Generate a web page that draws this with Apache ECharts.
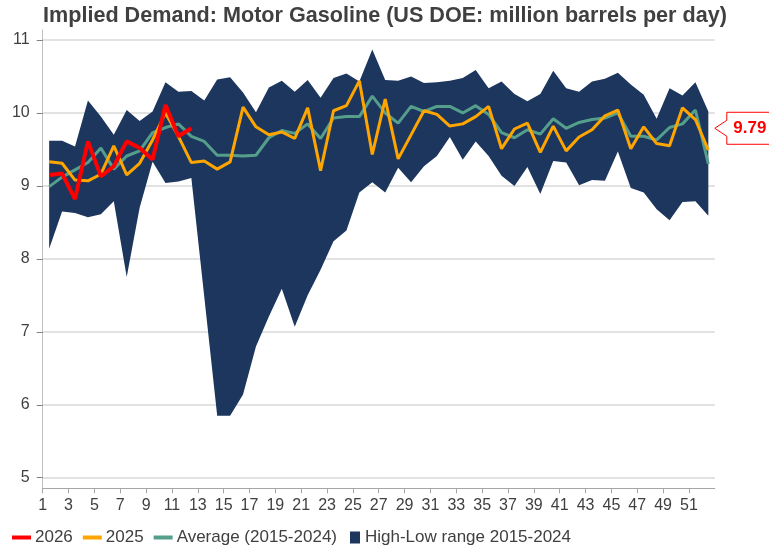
<!DOCTYPE html>
<html>
<head>
<meta charset="utf-8">
<script src="https://cdn.jsdelivr.net/npm/echarts@6/dist/echarts.min.js"></script>
<style>
html, body { margin: 0; padding: 0; background: #fff; }
#chart { width: 769px; height: 550px; }
</style>
</head>
<body>
<div id="chart"></div>
<script>
var weeks = [1, 2, 3, 4, 5, 6, 7, 8, 9, 10, 11, 12, 13, 14, 15, 16, 17, 18, 19, 20, 21, 22, 23, 24, 25, 26,
	27, 28, 29, 30, 31, 32, 33, 34, 35, 36, 37, 38, 39, 40, 41, 42, 43, 44, 45, 46, 47, 48, 49, 50, 51, 52];
var y2026 = [9.15, 9.17, 8.82, 9.61, 9.13, 9.27, 9.61, 9.52, 9.36, 10.11, 9.68, 9.79];
var y2025 = [9.33, 9.31, 9.08, 9.07, 9.16, 9.55, 9.15, 9.31, 9.63, 10.0, 9.68, 9.32, 9.34, 9.23, 9.33, 10.08,
	9.81, 9.70, 9.74, 9.65, 10.07, 9.21, 10.03, 10.10, 10.44, 9.43, 10.19, 9.37, 9.70, 10.03, 9.98, 9.82,
	9.85, 9.95, 10.09, 9.51, 9.78, 9.86, 9.46, 9.82, 9.48, 9.67, 9.77, 9.96, 10.04, 9.51, 9.81, 9.58,
	9.55, 10.07, 9.91, 9.49];
var avg = [8.99, 9.12, 9.22, 9.32, 9.52, 9.23, 9.41, 9.48, 9.73, 9.80, 9.85, 9.68, 9.61, 9.42, 9.42, 9.41,
	9.42, 9.66, 9.76, 9.72, 9.85, 9.65, 9.93, 9.95, 9.95, 10.23, 10.0, 9.86, 10.09, 10.02, 10.09, 10.09,
	10.0, 10.10, 9.98, 9.73, 9.66, 9.77, 9.71, 9.92, 9.79, 9.87, 9.91, 9.93, 10.0, 9.68, 9.68, 9.63,
	9.80, 9.85, 10.04, 9.30];
var high = [9.62, 9.62, 9.54, 10.17, 9.95, 9.70, 10.04, 9.89, 10.02, 10.42, 10.29, 10.30, 10.17, 10.46, 10.49, 10.28,
	10.01, 10.35, 10.44, 10.29, 10.45, 10.21, 10.48, 10.54, 10.43, 10.87, 10.45, 10.44, 10.50, 10.41, 10.42, 10.44,
	10.48, 10.59, 10.34, 10.43, 10.26, 10.16, 10.26, 10.58, 10.34, 10.29, 10.43, 10.47, 10.55, 10.39, 10.25, 9.92,
	10.34, 10.24, 10.42, 10.02];
var low = [8.14, 8.65, 8.63, 8.57, 8.61, 8.79, 7.75, 8.70, 9.33, 9.04, 9.06, 9.11, 7.48, 5.85, 5.85, 6.14,
	6.80, 7.21, 7.59, 7.07, 7.50, 7.85, 8.24, 8.39, 8.91, 9.05, 8.91, 9.25, 9.05, 9.27, 9.41, 9.67,
	9.36, 9.61, 9.41, 9.14, 9.00, 9.26, 8.89, 9.34, 9.32, 9.01, 9.08, 9.07, 9.47, 8.97, 8.91, 8.68,
	8.53, 8.78, 8.79, 8.59];
var yTicks = [5, 6, 7, 8, 9, 10, 11];
// labelled weeks (every other one), placed on the left edge of their slot
var xTickWeeks = weeks.filter(function (w) { return w % 2 === 1; });

var FONT = '"Liberation Sans", Arial, sans-serif';
var TXT = '#404040';

var myChart = echarts.init(document.getElementById('chart'), null, { renderer: 'canvas' });

var option = {
	animation: false,
	title: {
		text: 'Implied Demand: Motor Gasoline (US DOE: million barrels per day)',
		left: 43,
		top: 5,
		padding: 0,
		textStyle: { fontSize: 21.6, fontWeight: 'bold', color: TXT, fontFamily: FONT }
	},
	grid: [
		{ left: 42.7, right: 54.2, top: 40, bottom: 72.3, containLabel: false },
		{ left: 42.7, right: 54.2, top: 30, bottom: 61.7, containLabel: false }
	],
	legend: [
		{
			data: ['2026', '2025', 'Average (2015-2024)'],
			left: 12, top: 529, padding: 0,
			icon: 'rect', itemWidth: 19, itemHeight: 4, itemGap: 10,
			textStyle: { fontSize: 17, color: TXT, fontFamily: FONT, padding: [0, 0, 0, -1] }
		},
		{
			data: ['High-Low range 2015-2024'],
			left: 350, top: 529, padding: 0,
			icon: 'rect', itemWidth: 10, itemHeight: 12,
			textStyle: { fontSize: 17, color: TXT, fontFamily: FONT }
		}
	],
	xAxis: [
		{
			// weeks as bands: each week's point sits in the middle of its slot
			type: 'category', gridIndex: 0, position: 'top', data: weeks, boundaryGap: true, show: false
		},
		{ type: 'value', gridIndex: 1, min: 0, max: 1, show: false },
		{
			// visible week scale: labels on slot edges
			type: 'value', gridIndex: 0, position: 'bottom', min: 0, max: 52, interval: 2,
			offset: 10.6,
			axisLine: { show: true, onZero: false, lineStyle: { color: '#A6A6A6', width: 1 } },
			axisTick: {
				show: true, length: 5, lineStyle: { color: '#A6A6A6' },
				customValues: xTickWeeks.map(function (w) { return w - 1; })
			},
			splitLine: { show: false },
			axisLabel: {
				fontSize: 16, color: TXT, fontFamily: FONT, margin: 9,
				customValues: xTickWeeks.map(function (w) { return w - 1; }),
				formatter: function (v) { return String(v + 1); }
			}
		}
	],
	yAxis: [
		{
			type: 'value', gridIndex: 0, min: yTicks[0], max: yTicks[yTicks.length - 1], interval: 1,
			axisLine: { show: false },
			axisTick: { show: true, length: 6, lineStyle: { color: '#808080' } },
			splitLine: { show: true, lineStyle: { color: '#D9D9D9', width: 1.5 } },
			axisLabel: { fontSize: 16, color: TXT, fontFamily: FONT, margin: 13 }
		},
		{
			type: 'value', gridIndex: 1, min: 0, max: 1,
			axisLine: { show: true, lineStyle: { color: '#BFBFBF', width: 1 } },
			axisTick: { show: false }, axisLabel: { show: false }, splitLine: { show: false }
		}
	],
	series: [
		{
			name: 'low', type: 'line', stack: 'band', data: low,
			symbol: 'none', lineStyle: { opacity: 0 }, silent: true, z: 1
		},
		{
			name: 'High-Low range 2015-2024', type: 'line', stack: 'band',
			data: high.map(function (h, i) { return +(h - low[i]).toFixed(2); }),
			symbol: 'none', color: '#1C365D',
			lineStyle: { opacity: 0 },
			areaStyle: { color: '#1C365D', opacity: 1 }, z: 1
		},
		{
			name: 'Average (2015-2024)', type: 'line', data: avg, symbol: 'none',
			color: '#559E8B', lineStyle: { width: 3, color: '#559E8B' }, z: 3
		},
		{
			name: '2025', type: 'line', data: y2025, symbol: 'none',
			color: '#FFA500', lineStyle: { width: 3, color: '#FFA500' }, z: 4
		},
		{
			name: '2026', type: 'line', data: y2026, symbol: 'none',
			color: '#FF0000', lineStyle: { width: 4, color: '#FF0000' }, z: 5
		}
	]
};
myChart.setOption(option);

// callout with the latest 2026 value at the right edge of the plot
var last = y2026[y2026.length - 1];
var py = myChart.convertToPixel({ yAxisIndex: 0 }, last);
var px = myChart.convertToPixel({ xAxisIndex: 2 }, 52);
myChart.setOption({
	graphic: [{
		type: 'group', x: px, y: py, z: 100,
		children: [
			{
				type: 'polygon',
				shape: { points: [[0, 0], [12, -8], [12, -16], [60, -16], [60, 16], [12, 16], [12, 8]] },
				style: { fill: '#fff', stroke: '#FF0000', lineWidth: 1 }
			},
			{
				type: 'text', x: 35, y: 0,
				style: { text: last.toFixed(2), fill: '#FF0000', font: 'bold 17px ' + FONT, align: 'center', verticalAlign: 'middle' }
			}
		]
	}]
});
</script>
</body>
</html>
